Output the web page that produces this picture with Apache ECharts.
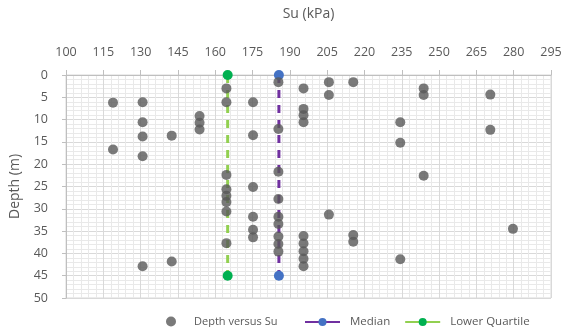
<!DOCTYPE html>
<html>
<head>
<meta charset="utf-8">
<script src="https://cdn.jsdelivr.net/npm/echarts@6/dist/echarts.min.js"></script>
<style>
  html, body { margin: 0; padding: 0; background: #fff; }
  #chart { width: 566px; height: 327px; }
</style>
</head>
<body>
<div id="chart"></div>
<script>
// Su (kPa) vs depth (m) test results
const su = [
  185.4, 195.5, 164.5, 205.7, 215.5, 205.7, 243.8, 243.8, 270.6,
  118.9, 130.8, 164.5, 175.2, 195.5, 195.5, 195.5, 153.7, 153.7, 153.7,
  130.8, 130.8, 142.5, 175.2, 185.4, 234.4, 270.6, 234.4, 118.9, 130.8,
  164.5, 185.4, 243.8, 175.2, 164.5, 164.5, 164.5, 164.5, 185.4, 205.7,
  175.2, 175.2, 175.2, 185.4, 185.4, 185.4, 185.4, 185.4, 164.5,
  195.5, 195.5, 195.5, 195.5, 195.5, 215.5, 215.5, 279.7, 234.4, 142.5, 130.8
]
const depth = [
  1.6, 3.0, 3.0, 1.6, 1.6, 4.5, 3.0, 4.5, 4.4,
  6.2, 6.1, 6.1, 6.1, 7.6, 9.0, 10.6, 9.2, 10.7, 12.2,
  10.6, 13.8, 13.6, 13.5, 12.1, 10.6, 12.3, 15.2, 16.7, 18.2,
  22.4, 21.7, 22.6, 25.1, 25.6, 27.1, 28.5, 30.6, 27.8, 31.3,
  31.8, 34.7, 36.4, 31.8, 33.4, 36.2, 37.9, 39.6, 37.7,
  36.1, 37.8, 39.5, 41.2, 42.9, 35.9, 37.4, 34.5, 41.3, 41.8, 42.9
]
const medianSu = 185.6
const lowerQuartileSu = 165
const depthRange = [0, 45]

const font = 'Open Sans'
const textColor = '#595959'

const chart = echarts.init(document.getElementById('chart'))
chart.setOption({
  animation: false,
  textStyle: { fontFamily: font },
  grid: {
    left: 66, right: 15, top: 75, bottom: 29,
    show: true, borderColor: '#d9d9d9', borderWidth: 1
  },
  legend: [
    {
      data: ['Depth versus Su'],
      left: 161, top: 311,
      itemWidth: 10, itemHeight: 10,
      textStyle: { color: textColor, fontSize: 11, padding: [0, 0, 0, 13] }
    },
    {
      data: ['Median', 'Lower Quartile'],
      left: 299, top: 311,
      itemWidth: 35, itemHeight: 10, itemGap: 14,
      lineStyle: { type: 'solid' },
      textStyle: { color: textColor, fontSize: 11.5, padding: [0, 0, 0, 5] }
    }
  ],
  xAxis: {
    type: 'value',
    position: 'top',
    min: 100, max: 295, interval: 15,
    name: 'Su (kPa)',
    nameLocation: 'middle',
    nameGap: 54,
    nameTextStyle: { color: textColor, fontSize: 14 },
    axisLine: { show: true, lineStyle: { color: '#bfbfbf' } },
    axisTick: { show: true, length: 5, lineStyle: { color: '#bfbfbf' } },
    axisLabel: { color: textColor, fontSize: 12.5, margin: 16 },
    splitLine: { show: true, lineStyle: { color: '#d9d9d9' } },
    minorTick: { show: true, splitNumber: 5, length: 0 },
    minorSplitLine: { show: true, lineStyle: { color: '#e9e9e9' } }
  },
  yAxis: {
    type: 'value',
    inverse: true,
    min: 0, max: 50, interval: 5,
    name: 'Depth (m)',
    nameLocation: 'middle',
    nameGap: 44,
    nameTextStyle: { color: textColor, fontSize: 14 },
    axisLine: { show: true, lineStyle: { color: '#bfbfbf' } },
    axisTick: { show: true, length: 4, lineStyle: { color: '#bfbfbf' } },
    axisLabel: { color: textColor, fontSize: 12.5, margin: 18 },
    splitLine: { show: true, lineStyle: { color: '#d9d9d9' } },
    minorTick: { show: true, splitNumber: 5, length: 0 },
    minorSplitLine: { show: true, lineStyle: { color: '#e9e9e9' } }
  },
  series: [
    {
      name: 'Depth versus Su',
      type: 'scatter',
      data: su.map((v, i) => [v, depth[i]]),
      symbol: 'circle',
      symbolSize: 10,
      itemStyle: { color: '#595959' },
      z: 3
    },
    {
      name: 'Median',
      type: 'line',
      data: depthRange.map(d => [medianSu, d]),
      symbol: 'circle',
      symbolSize: 10,
      lineStyle: { color: '#7030a0', width: 3, type: [8, 7] },
      itemStyle: { color: '#4472c4' },
      z: 2
    },
    {
      name: 'Lower Quartile',
      type: 'line',
      data: depthRange.map(d => [lowerQuartileSu, d]),
      symbol: 'circle',
      symbolSize: 10,
      lineStyle: { color: '#92d050', width: 3, type: [8, 7] },
      itemStyle: { color: '#00b050' },
      z: 2
    }
  ]
})
</script>
</body>
</html>
